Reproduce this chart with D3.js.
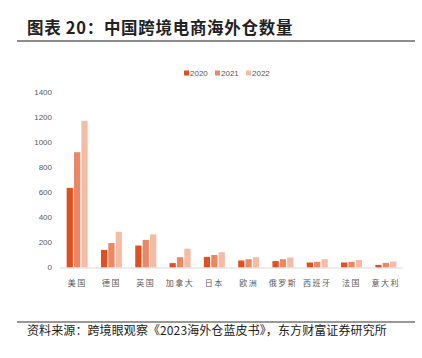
<!DOCTYPE html>
<html><head><meta charset="utf-8">
<script src="https://cdn.jsdelivr.net/npm/d3@7"></script>
<style>
html,body{margin:0;padding:0;background:#fff;}
svg{display:block;}
</style>
</head><body>
<svg id="c" width="422" height="358"></svg>
<script>
const categories = ["美国","德国","英国","加拿大","日本","欧洲","俄罗斯","西班牙","法国","意大利"];
const seriesNames = ["2020","2021","2022"];
const v2020 = [635,140,175,35,85,56,51,40,40,21];
const v2021 = [920,195,220,82,100,66,66,45,45,37];
const v2022 = [1170,285,265,150,122,82,80,66,60,48];
const yTicks = [0,200,400,600,800,1000,1200,1400];
const colors = ["#E2501F","#EA8866","#F4BCA7"];
const titleText = "图表 20：中国跨境电商海外仓数量";
const sourceText = "资料来源：跨境眼观察《2023海外仓蓝皮书》，东方财富证券研究所";

const series = [v2020, v2021, v2022];
const svg = d3.select("#c");
const cjk = "'Noto Sans CJK SC','Noto Sans',sans-serif";

svg.append("text").attr("x",27).attr("y",34).attr("font-family",cjk)
  .attr("font-size",16.5).attr("font-weight","bold").attr("letter-spacing",0.7)
  .attr("fill","#222").attr("xml:space","preserve").text(titleText);
svg.append("line").attr("x1",17).attr("x2",415).attr("y1",41).attr("y2",41)
  .attr("stroke","#8c8c8c").attr("stroke-width",2);

const x0 = d3.scaleBand().domain(categories).range([60,403]).paddingInner(0).paddingOuter(0);
const x1 = d3.scaleBand().domain(seriesNames).range([0,x0.bandwidth()]).paddingInner(0.15).paddingOuter(0.9);
const y = d3.scaleLinear().domain([0,1400]).range([267.5,92]);

// y axis labels
svg.append("g").selectAll("text").data(yTicks).join("text")
  .attr("x",52).attr("y",d=>y(d)).attr("dy","0.35em").attr("text-anchor","end")
  .attr("font-family","'Liberation Sans',Arial,sans-serif").attr("font-size",8)
  .attr("fill","#595959").text(d=>d);

// bars
categories.forEach((c,i)=>{
  seriesNames.forEach((s,j)=>{
    svg.append("rect").attr("x",x0(c)+x1(s)).attr("width",x1.bandwidth())
      .attr("y",y(series[j][i])).attr("height",y(0)-y(series[j][i]))
      .attr("fill",colors[j]);
  });
});

// baseline
svg.append("line").attr("x1",60).attr("x2",403).attr("y1",y(0)+0.5).attr("y2",y(0)+0.5)
  .attr("stroke","#d9d9d9").attr("stroke-width",1);

// x labels
svg.append("g").selectAll("text").data(categories).join("text")
  .attr("x",d=>x0(d)+x0.bandwidth()/2).attr("y",283).attr("dy","0.35em").attr("text-anchor","middle")
  .attr("font-family",cjk).attr("font-size",8).attr("fill","#595959")
  .attr("letter-spacing",1.5).text(d=>d);

// legend
const lg = svg.append("g");
const lx = [184,215,246];
seriesNames.forEach((s,j)=>{
  lg.append("rect").attr("x",lx[j]).attr("y",70.5).attr("width",5).attr("height",5).attr("fill",colors[j]);
  lg.append("text").attr("x",lx[j]+6).attr("y",73).attr("dy","0.35em")
    .attr("font-family","'Liberation Sans',Arial,sans-serif").attr("font-size",8).attr("fill","#595959").text(s);
});

// bottom line and source
svg.append("line").attr("x1",17).attr("x2",415).attr("y1",322).attr("y2",322)
  .attr("stroke","#333").attr("stroke-width",1.2);
svg.append("text").attr("x",27).attr("y",335).attr("font-family",cjk)
  .attr("font-size",12).attr("letter-spacing",0.1).attr("fill","#222").text(sourceText);
</script>
</body></html>
